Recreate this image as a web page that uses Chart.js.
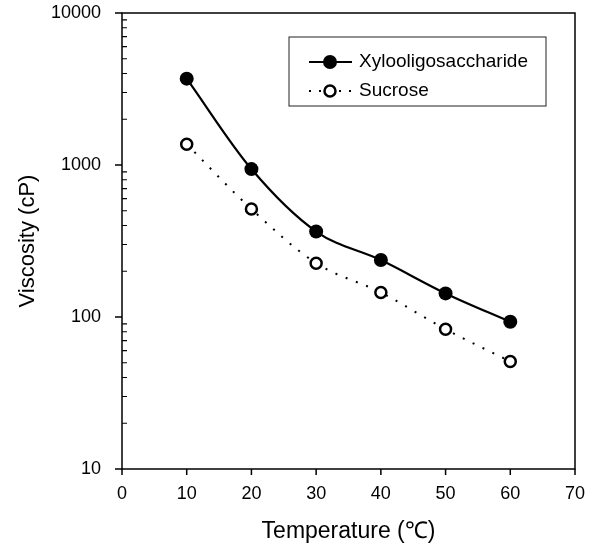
<!DOCTYPE html>
<html><head><meta charset="utf-8">
<script src="https://cdn.jsdelivr.net/npm/chart.js@4.4.0/dist/chart.umd.min.js"></script>
<style>html,body{margin:0;padding:0;background:#fff}canvas{display:block}</style>
</head><body>
<canvas id="c" width="598" height="547"></canvas>
<script>
const temperatures = [10, 20, 30, 40, 50, 60];
const xyloViscosity = [3700, 940, 365, 237, 143, 93];
const sucroseViscosity = [1370, 513, 226, 145, 83, 51];
const seriesNames = ['Xylooligosaccharide', 'Sucrose'];
const xTicks = [0, 10, 20, 30, 40, 50, 60, 70];
const yMajorTicks = [10, 100, 1000, 10000];
const xTitle = 'Temperature (\u2103)';
const yTitle = 'Viscosity (cP)';

const FONT = '"Liberation Sans", Arial, sans-serif';

const framePlugin = {
  id: 'frame',
  afterDraw(chart) {
    const ctx = chart.ctx;
    const a = chart.chartArea;
    const xs = chart.scales.x, ys = chart.scales.y;
    ctx.save();
    ctx.strokeStyle = '#000';
    ctx.lineWidth = 1.5;
    ctx.beginPath();
    ctx.rect(a.left, a.top, a.right - a.left, a.bottom - a.top);
    ctx.stroke();
    ctx.beginPath();
    xTicks.forEach(v => {
      const px = xs.getPixelForValue(v);
      ctx.moveTo(px, a.bottom);
      ctx.lineTo(px, a.bottom + 6);
    });
    yMajorTicks.forEach(v => {
      const py = ys.getPixelForValue(v);
      ctx.moveTo(a.left - 7, py);
      ctx.lineTo(a.left, py);
    });
    ctx.stroke();
    ctx.lineWidth = 1.2;
    ctx.beginPath();
    for (let i = 0; i < yMajorTicks.length - 1; i++) {
      for (let m = 2; m <= 9; m++) {
        const py = ys.getPixelForValue(yMajorTicks[i] * m);
        ctx.moveTo(a.left, py);
        ctx.lineTo(a.left + 5, py);
      }
    }
    ctx.stroke();

    const bx = a.left + 167, by = a.top + 24, bw = 257, bh = 69;
    ctx.lineWidth = 1;
    ctx.strokeStyle = '#222';
    ctx.fillStyle = '#fff';
    ctx.fillRect(bx, by, bw, bh);
    ctx.strokeRect(bx, by, bw, bh);
    const rows = [by + 25, by + 54];
    const sx0 = bx + 20, sx1 = bx + 63, cx = bx + 41;
    ctx.strokeStyle = '#000';
    ctx.lineWidth = 2.2;
    ctx.setLineDash([]);
    ctx.beginPath(); ctx.moveTo(sx0, rows[0]); ctx.lineTo(sx1, rows[0]); ctx.stroke();
    ctx.fillStyle = '#000';
    ctx.beginPath(); ctx.arc(cx, rows[0], 7, 0, Math.PI * 2); ctx.fill();
    ctx.lineWidth = 2;
    ctx.setLineDash([2, 8]);
    ctx.beginPath(); ctx.moveTo(sx0, rows[1]); ctx.lineTo(sx1, rows[1]); ctx.stroke();
    ctx.setLineDash([]);
    ctx.fillStyle = '#fff';
    ctx.lineWidth = 2.5;
    ctx.beginPath(); ctx.arc(cx, rows[1], 5.5, 0, Math.PI * 2); ctx.fill(); ctx.stroke();
    ctx.fillStyle = '#000';
    ctx.font = '19px ' + FONT;
    ctx.textBaseline = 'middle';
    ctx.textAlign = 'left';
    ctx.fillText(chart.data.datasets[0].label, bx + 70, rows[0]);
    ctx.fillText(chart.data.datasets[1].label, bx + 70, rows[1]);
    ctx.restore();
  }
};

new Chart(document.getElementById('c'), {
  type: 'line',
  data: {
    datasets: [
      {
        label: seriesNames[0],
        data: temperatures.map((t, i) => ({x: t, y: xyloViscosity[i]})),
        borderColor: '#000',
        borderWidth: 2.2,
        cubicInterpolationMode: 'monotone',
        pointRadius: 7,
        pointBackgroundColor: '#000',
        pointBorderColor: '#000',
        pointBorderWidth: 0,
        fill: false
      },
      {
        label: seriesNames[1],
        data: temperatures.map((t, i) => ({x: t, y: sucroseViscosity[i]})),
        borderColor: '#000',
        borderWidth: 2,
        borderDash: [2, 9],
        cubicInterpolationMode: 'monotone',
        pointRadius: 5.5,
        pointBackgroundColor: '#fff',
        pointBorderColor: '#000',
        pointBorderWidth: 2.5,
        fill: false
      }
    ]
  },
  options: {
    responsive: false,
    animation: false,
    devicePixelRatio: 1,
    layout: {padding: {left: 0, right: 23, top: 13, bottom: 0}},
    plugins: {legend: {display: false}, tooltip: {enabled: false}},
    scales: {
      x: {
        type: 'linear',
        min: 0, max: 70,
        afterBuildTicks: s => { s.ticks = xTicks.map(v => ({value: v})); },
        afterFit: s => { s.height = 78; s.paddingLeft = 0; s.paddingRight = 0; },
        grid: {display: false, drawTicks: false},
        border: {display: false},
        ticks: {color: '#000', font: {size: 18, family: FONT}, padding: 14, maxRotation: 0, autoSkip: false},
        title: {display: true, text: xTitle, color: '#000', font: {size: 23, family: FONT}, padding: {top: 0, bottom: 2}}
      },
      y: {
        type: 'logarithmic',
        min: 10, max: 10000,
        afterBuildTicks: s => { s.ticks = yMajorTicks.map(v => ({value: v})); },
        afterFit: s => { s.width = 122; s.paddingTop = 0; s.paddingBottom = 0; },
        grid: {display: false, drawTicks: false},
        border: {display: false},
        ticks: {color: '#000', font: {size: 18, family: FONT}, padding: 21, callback: v => String(v)},
        title: {display: true, text: yTitle, color: '#000', font: {size: 22, family: FONT}, padding: {top: 15, bottom: 0}}
      }
    }
  },
  plugins: [framePlugin]
});
</script>
</body></html>
